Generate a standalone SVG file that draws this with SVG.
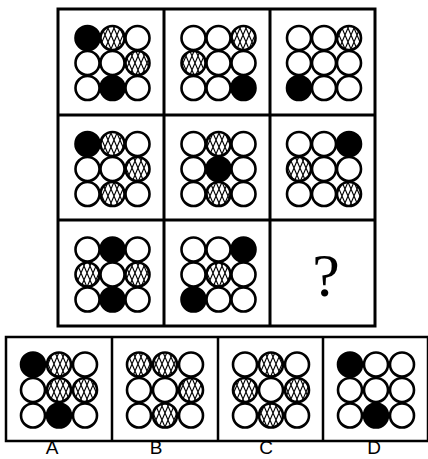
<svg xmlns="http://www.w3.org/2000/svg" width="428" height="459" viewBox="0 0 428 459">
<defs>
<pattern id="hatch" patternUnits="userSpaceOnUse" width="6" height="14">
<rect width="6" height="14" fill="#fff"/>
<path d="M0,0 L6,14 M6,0 L0,14" stroke="#000" stroke-width="1.1"/>
</pattern>
</defs>
<style>
circle{stroke:#000;stroke-width:2.6}
.w{fill:#fff}
.b{fill:#000}
.h{fill:url(#hatch)}
.frame{fill:none;stroke:#000;stroke-width:3}
.opt{fill:none;stroke:#000;stroke-width:2.5}
.lbl{font-family:"Liberation Sans",Arial,sans-serif;font-size:19px;fill:#000;text-anchor:middle}
</style>
<rect width="428" height="459" fill="#fff"/>
<g id="grid-frame">
<rect class="frame" x="58" y="9" width="317" height="317"/>
<path class="frame" d="M164,9 V326 M270,9 V326 M58,115 H375 M58,220 H375"/>
</g>
<g id="r1c1">
<circle class="b" cx="87.5" cy="38" r="12"/><circle class="h" cx="112.5" cy="38" r="12"/><circle class="w" cx="137.5" cy="38" r="12"/>
<circle class="w" cx="87.5" cy="63" r="12"/><circle class="w" cx="112.5" cy="63" r="12"/><circle class="h" cx="137.5" cy="63" r="12"/>
<circle class="w" cx="87.5" cy="88" r="12"/><circle class="b" cx="112.5" cy="88" r="12"/><circle class="w" cx="137.5" cy="88" r="12"/>
</g>
<g id="r1c2">
<circle class="w" cx="193.5" cy="38" r="12"/><circle class="w" cx="218.5" cy="38" r="12"/><circle class="h" cx="243.5" cy="38" r="12"/>
<circle class="h" cx="193.5" cy="63" r="12"/><circle class="w" cx="218.5" cy="63" r="12"/><circle class="w" cx="243.5" cy="63" r="12"/>
<circle class="w" cx="193.5" cy="88" r="12"/><circle class="w" cx="218.5" cy="88" r="12"/><circle class="b" cx="243.5" cy="88" r="12"/>
</g>
<g id="r1c3">
<circle class="w" cx="299" cy="38" r="12"/><circle class="w" cx="324" cy="38" r="12"/><circle class="h" cx="349" cy="38" r="12"/>
<circle class="w" cx="299" cy="63" r="12"/><circle class="w" cx="324" cy="63" r="12"/><circle class="w" cx="349" cy="63" r="12"/>
<circle class="b" cx="299" cy="88" r="12"/><circle class="w" cx="324" cy="88" r="12"/><circle class="w" cx="349" cy="88" r="12"/>
</g>
<g id="r2c1">
<circle class="b" cx="87.5" cy="144" r="12"/><circle class="h" cx="112.5" cy="144" r="12"/><circle class="w" cx="137.5" cy="144" r="12"/>
<circle class="w" cx="87.5" cy="169" r="12"/><circle class="w" cx="112.5" cy="169" r="12"/><circle class="h" cx="137.5" cy="169" r="12"/>
<circle class="w" cx="87.5" cy="194" r="12"/><circle class="h" cx="112.5" cy="194" r="12"/><circle class="w" cx="137.5" cy="194" r="12"/>
</g>
<g id="r2c2">
<circle class="w" cx="193.5" cy="144" r="12"/><circle class="h" cx="218.5" cy="144" r="12"/><circle class="w" cx="243.5" cy="144" r="12"/>
<circle class="w" cx="193.5" cy="169" r="12"/><circle class="b" cx="218.5" cy="169" r="12"/><circle class="w" cx="243.5" cy="169" r="12"/>
<circle class="w" cx="193.5" cy="194" r="12"/><circle class="h" cx="218.5" cy="194" r="12"/><circle class="w" cx="243.5" cy="194" r="12"/>
</g>
<g id="r2c3">
<circle class="w" cx="299" cy="144" r="12"/><circle class="w" cx="324" cy="144" r="12"/><circle class="b" cx="349" cy="144" r="12"/>
<circle class="h" cx="299" cy="169" r="12"/><circle class="w" cx="324" cy="169" r="12"/><circle class="w" cx="349" cy="169" r="12"/>
<circle class="w" cx="299" cy="194" r="12"/><circle class="w" cx="324" cy="194" r="12"/><circle class="h" cx="349" cy="194" r="12"/>
</g>
<g id="r3c1">
<circle class="w" cx="87.5" cy="249.5" r="12"/><circle class="b" cx="112.5" cy="249.5" r="12"/><circle class="w" cx="137.5" cy="249.5" r="12"/>
<circle class="h" cx="87.5" cy="274.5" r="12"/><circle class="w" cx="112.5" cy="274.5" r="12"/><circle class="h" cx="137.5" cy="274.5" r="12"/>
<circle class="w" cx="87.5" cy="299.5" r="12"/><circle class="b" cx="112.5" cy="299.5" r="12"/><circle class="w" cx="137.5" cy="299.5" r="12"/>
</g>
<g id="r3c2">
<circle class="w" cx="193.5" cy="249.5" r="12"/><circle class="w" cx="218.5" cy="249.5" r="12"/><circle class="b" cx="243.5" cy="249.5" r="12"/>
<circle class="w" cx="193.5" cy="274.5" r="12"/><circle class="h" cx="218.5" cy="274.5" r="12"/><circle class="w" cx="243.5" cy="274.5" r="12"/>
<circle class="b" cx="193.5" cy="299.5" r="12"/><circle class="w" cx="218.5" cy="299.5" r="12"/><circle class="w" cx="243.5" cy="299.5" r="12"/>
</g>
<g id="r3c3">
<text x="326" y="296" font-family="'Liberation Serif','Times New Roman',serif" font-size="62" text-anchor="middle">?</text>
</g>
<g id="options-frame">
<rect class="opt" x="6" y="337" width="422" height="104"/>
<path class="opt" d="M112,337 V441 M218,337 V441 M323,337 V441"/>
</g>
<g id="optA">
<circle class="b" cx="33" cy="364.5" r="12"/><circle class="h" cx="59" cy="364.5" r="12"/><circle class="w" cx="85" cy="364.5" r="12"/>
<circle class="w" cx="33" cy="390" r="12"/><circle class="h" cx="59" cy="390" r="12"/><circle class="h" cx="85" cy="390" r="12"/>
<circle class="w" cx="33" cy="415.5" r="12"/><circle class="b" cx="59" cy="415.5" r="12"/><circle class="w" cx="85" cy="415.5" r="12"/>
<text class="lbl" x="52" y="454">A</text>
</g>
<g id="optB">
<circle class="h" cx="139" cy="364.5" r="12"/><circle class="h" cx="165" cy="364.5" r="12"/><circle class="w" cx="191" cy="364.5" r="12"/>
<circle class="w" cx="139" cy="390" r="12"/><circle class="w" cx="165" cy="390" r="12"/><circle class="h" cx="191" cy="390" r="12"/>
<circle class="w" cx="139" cy="415.5" r="12"/><circle class="h" cx="165" cy="415.5" r="12"/><circle class="w" cx="191" cy="415.5" r="12"/>
<text class="lbl" x="156" y="454">B</text>
</g>
<g id="optC">
<circle class="w" cx="245" cy="364.5" r="12"/><circle class="h" cx="271" cy="364.5" r="12"/><circle class="w" cx="297" cy="364.5" r="12"/>
<circle class="h" cx="245" cy="390" r="12"/><circle class="w" cx="271" cy="390" r="12"/><circle class="h" cx="297" cy="390" r="12"/>
<circle class="w" cx="245" cy="415.5" r="12"/><circle class="h" cx="271" cy="415.5" r="12"/><circle class="w" cx="297" cy="415.5" r="12"/>
<text class="lbl" x="266" y="454">C</text>
</g>
<g id="optD">
<circle class="b" cx="350" cy="364.5" r="12"/><circle class="w" cx="376" cy="364.5" r="12"/><circle class="w" cx="402" cy="364.5" r="12"/>
<circle class="w" cx="350" cy="390" r="12"/><circle class="w" cx="376" cy="390" r="12"/><circle class="w" cx="402" cy="390" r="12"/>
<circle class="w" cx="350" cy="415.5" r="12"/><circle class="b" cx="376" cy="415.5" r="12"/><circle class="w" cx="402" cy="415.5" r="12"/>
<text class="lbl" x="374" y="454">D</text>
</g>
</svg>
